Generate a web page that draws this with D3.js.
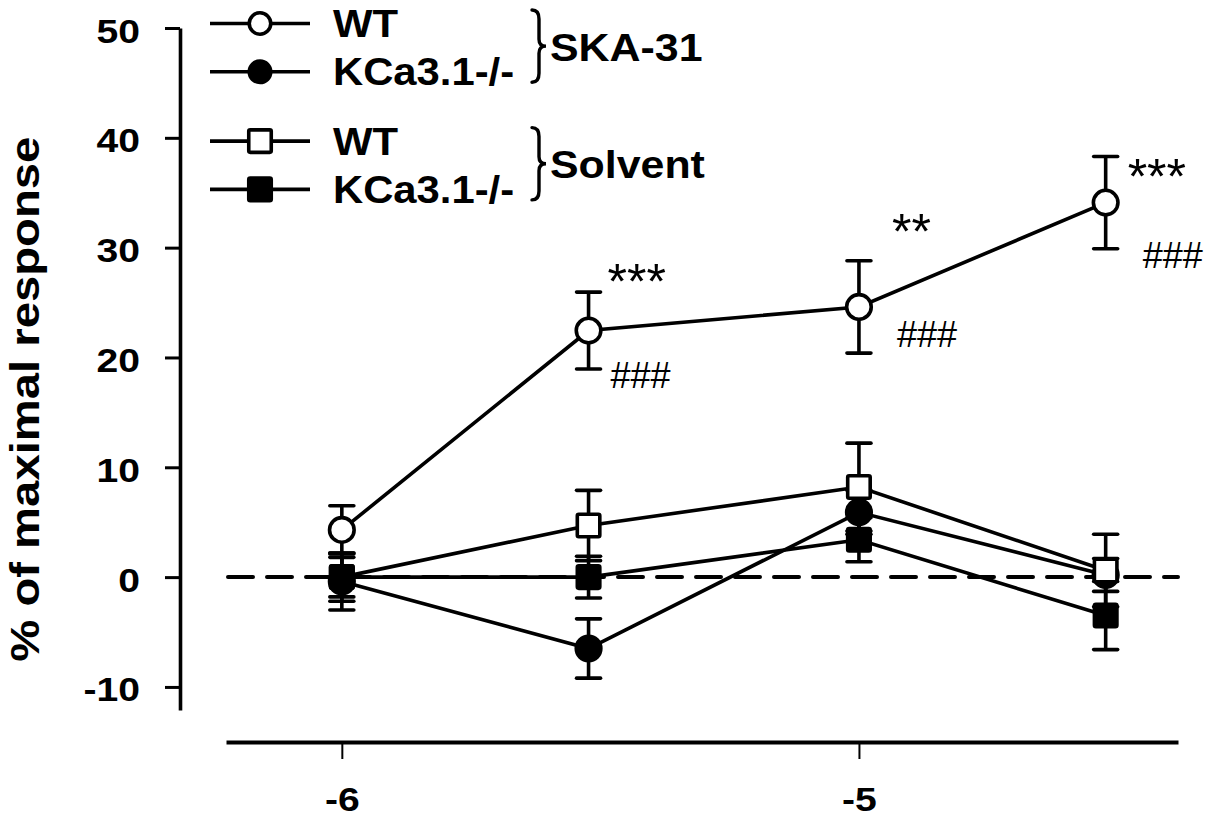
<!DOCTYPE html>
<html>
<head>
<meta charset="utf-8">
<script src="https://cdn.jsdelivr.net/npm/d3@7"></script>
<style>
  html, body { margin: 0; padding: 0; background: #fff; }
  svg { display: block; }
  text { font-family: "Liberation Sans", Arial, sans-serif; fill: #000; }
</style>
</head>
<body>
<svg id="chart" width="1207" height="823"></svg>
<script>
// SKA-31 / solvent concentrations (M), plotted on a log10 axis
const concentrations = [1e-6, 3e-6, 1e-5, 3e-5];
const xTicks = [-6, -5];
const yTicks = [-10, 0, 10, 20, 30, 40, 50];

// % of maximal response, mean and SEM
const wtSka = [4.3, 22.45, 24.6, 34.1];
const wtSkaSem = [2.2, 3.5, 4.2, 4.2];
const koSka = [-0.4, -6.5, 5.9, 0.2];
const koSkaSem = [2.6, 2.7, 2.0, 1.5];
const wtSolvent = [0.0, 4.7, 8.2, 0.6];
const wtSolventSem = [1.8, 3.2, 4.0, 3.3];
const koSolvent = [0.0, 0.0, 3.4, -3.5];
const koSolventSem = [2.2, 1.9, 2.0, 3.1];

const seriesNames = ["WT", "KCa3.1-/-", "WT", "KCa3.1-/-"];
const groupNames = ["SKA-31", "Solvent"];
const yTitle = "% of maximal response";

// significance marks on the WT SKA-31 curve
const stars = ["", "***", "**", "***"];
const hashes = ["", "###", "###", "###"];

const svg = d3.select("#chart");
const x = d3.scaleLinear().domain([-6.224, -4.383]).range([226, 1178]);
const y = d3.scaleLinear().domain([-12.1, 50]).range([710, 28]);
const logC = concentrations.map(c => Math.log10(c));

const series = [
  { values: wtSka, sem: wtSkaSem, shape: "circle", fill: "#fff" },
  { values: koSka, sem: koSkaSem, shape: "circle", fill: "#000" },
  { values: wtSolvent, sem: wtSolventSem, shape: "square", fill: "#fff" },
  { values: koSolvent, sem: koSolventSem, shape: "square", fill: "#000" }
];

const LW = 3.6;

function marker(g, shape, fill, cx, cy, size) {
  if (shape === "circle") {
    g.append("circle").attr("cx", cx).attr("cy", cy).attr("r", size / 2)
      .attr("fill", fill).attr("stroke", "#000").attr("stroke-width", LW);
  } else {
    g.append("rect").attr("x", cx - size / 2).attr("y", cy - size / 2)
      .attr("width", size).attr("height", size).attr("rx", 1.5)
      .attr("fill", fill).attr("stroke", "#000").attr("stroke-width", LW);
  }
}

// axes
const yAxis = svg.append("g").attr("transform", "translate(180,0)")
  .call(d3.axisLeft(y).tickValues(yTicks).tickSize(15).tickSizeOuter(0).tickFormat(d => String(d)));
yAxis.attr("font-family", null).attr("font-size", 34).attr("font-weight", "bold");
yAxis.select(".domain").attr("stroke-width", 3.6);
yAxis.selectAll(".tick line").attr("stroke-width", 3);
yAxis.selectAll(".tick text")
  .attr("x", 0).attr("dy", null)
  .attr("transform", "translate(-40,14) scale(1.15,1)");

const xAxis = svg.append("g").attr("transform", "translate(0,742)")
  .call(d3.axisBottom(x).tickValues(xTicks).tickSize(17).tickSizeOuter(0).tickFormat(d => String(d)));
xAxis.attr("font-family", null).attr("font-size", 34).attr("font-weight", "bold");
xAxis.select(".domain").attr("stroke-width", 4);
xAxis.selectAll(".tick line").attr("stroke-width", 2);
xAxis.selectAll(".tick text")
  .attr("y", 0).attr("dy", null)
  .attr("transform", "translate(0,69) scale(1.15,1)");

svg.append("text")
  .attr("transform", `translate(39,${y(16.2)}) rotate(-90)`)
  .attr("text-anchor", "middle")
  .attr("font-size", 40).attr("font-weight", "bold")
  .attr("textLength", 525).attr("lengthAdjust", "spacingAndGlyphs")
  .text(yTitle);

// zero reference line
svg.append("line")
  .attr("x1", x.range()[0] + 2).attr("x2", x.range()[1])
  .attr("y1", y(0)).attr("y2", y(0))
  .attr("stroke", "#000").attr("stroke-width", 4)
  .attr("stroke-dasharray", "25,14").attr("stroke-linecap", "round");

const plot = svg.append("g");
const line = d3.line().x((d, i) => x(logC[i])).y(d => y(d));

series.forEach(s => {
  plot.append("path").datum(s.values).attr("d", line)
    .attr("fill", "none").attr("stroke", "#000").attr("stroke-width", LW);
});

series.forEach(s => {
  s.values.forEach((v, i) => {
    const cx = x(logC[i]);
    const y1 = y(v + s.sem[i]), y2 = y(v - s.sem[i]);
    plot.append("line").attr("x1", cx).attr("x2", cx).attr("y1", y1).attr("y2", y2)
      .attr("stroke", "#000").attr("stroke-width", LW);
    [y1, y2].forEach(yy => {
      plot.append("line").attr("x1", cx - 12).attr("x2", cx + 12).attr("y1", yy).attr("y2", yy)
        .attr("stroke", "#000").attr("stroke-width", LW).attr("stroke-linecap", "round");
    });
  });
});

series.forEach(s => {
  s.values.forEach((v, i) => {
    marker(plot, s.shape, s.fill, x(logC[i]), y(v), s.shape === "circle" ? 24.6 : 22.5);
  });
});

// significance labels, offset from the WT SKA-31 points
const starOffsets = [null, [19, -31.5], [33, -58], [22, -9]];
const hashOffsets = [null, [22, 57.5], [38, 40], [37, 65]];
wtSka.forEach((v, i) => {
  if (stars[i]) {
    svg.append("text")
      .attr("x", x(logC[i]) + starOffsets[i][0]).attr("y", y(v) + starOffsets[i][1])
      .attr("font-size", 50).text(stars[i]);
  }
  if (hashes[i]) {
    svg.append("text")
      .attr("x", x(logC[i]) + hashOffsets[i][0]).attr("y", y(v) + hashOffsets[i][1])
      .attr("font-size", 36).text(hashes[i]);
  }
});

// legend
const legend = svg.append("g");
const rowY = series.map((s, i) => 23.5 + i * 48.3 + (i >= 2 ? 21 : 0));
series.forEach((s, i) => {
  legend.append("line").attr("x1", 210).attr("x2", 310).attr("y1", rowY[i]).attr("y2", rowY[i])
    .attr("stroke", "#000").attr("stroke-width", LW);
  marker(legend, s.shape, s.fill, 260, rowY[i], s.shape === "circle" ? 21.5 : 22.5);
  legend.append("text")
    .attr("transform", `translate(333,${rowY[i] + 13.5}) scale(1.1,1)`)
    .attr("font-size", 38).attr("font-weight", "bold")
    .text(seriesNames[i]);
});

function brace(x0, top, bot) {
  const m = (top + bot) / 2, v = x0 + 7;
  return `M${x0},${top} Q${v},${top} ${v},${top + 9} L${v},${m - 7} Q${v},${m} ${v + 7},${m}` +
         ` Q${v},${m} ${v},${m + 7} L${v},${bot - 9} Q${v},${bot} ${x0},${bot}`;
}
groupNames.forEach((g, k) => {
  const top = rowY[k * 2] - 13.5, bot = rowY[k * 2 + 1] + 10.5;
  legend.append("path").attr("d", brace(532, top, bot))
    .attr("fill", "none").attr("stroke", "#000").attr("stroke-width", 3.4)
    .attr("stroke-linecap", "round");
  legend.append("text")
    .attr("transform", `translate(550,${(top + bot) / 2 + 14.5}) scale(1.1,1)`)
    .attr("font-size", 39).attr("font-weight", "bold")
    .text(g);
});
</script>
</body>
</html>
